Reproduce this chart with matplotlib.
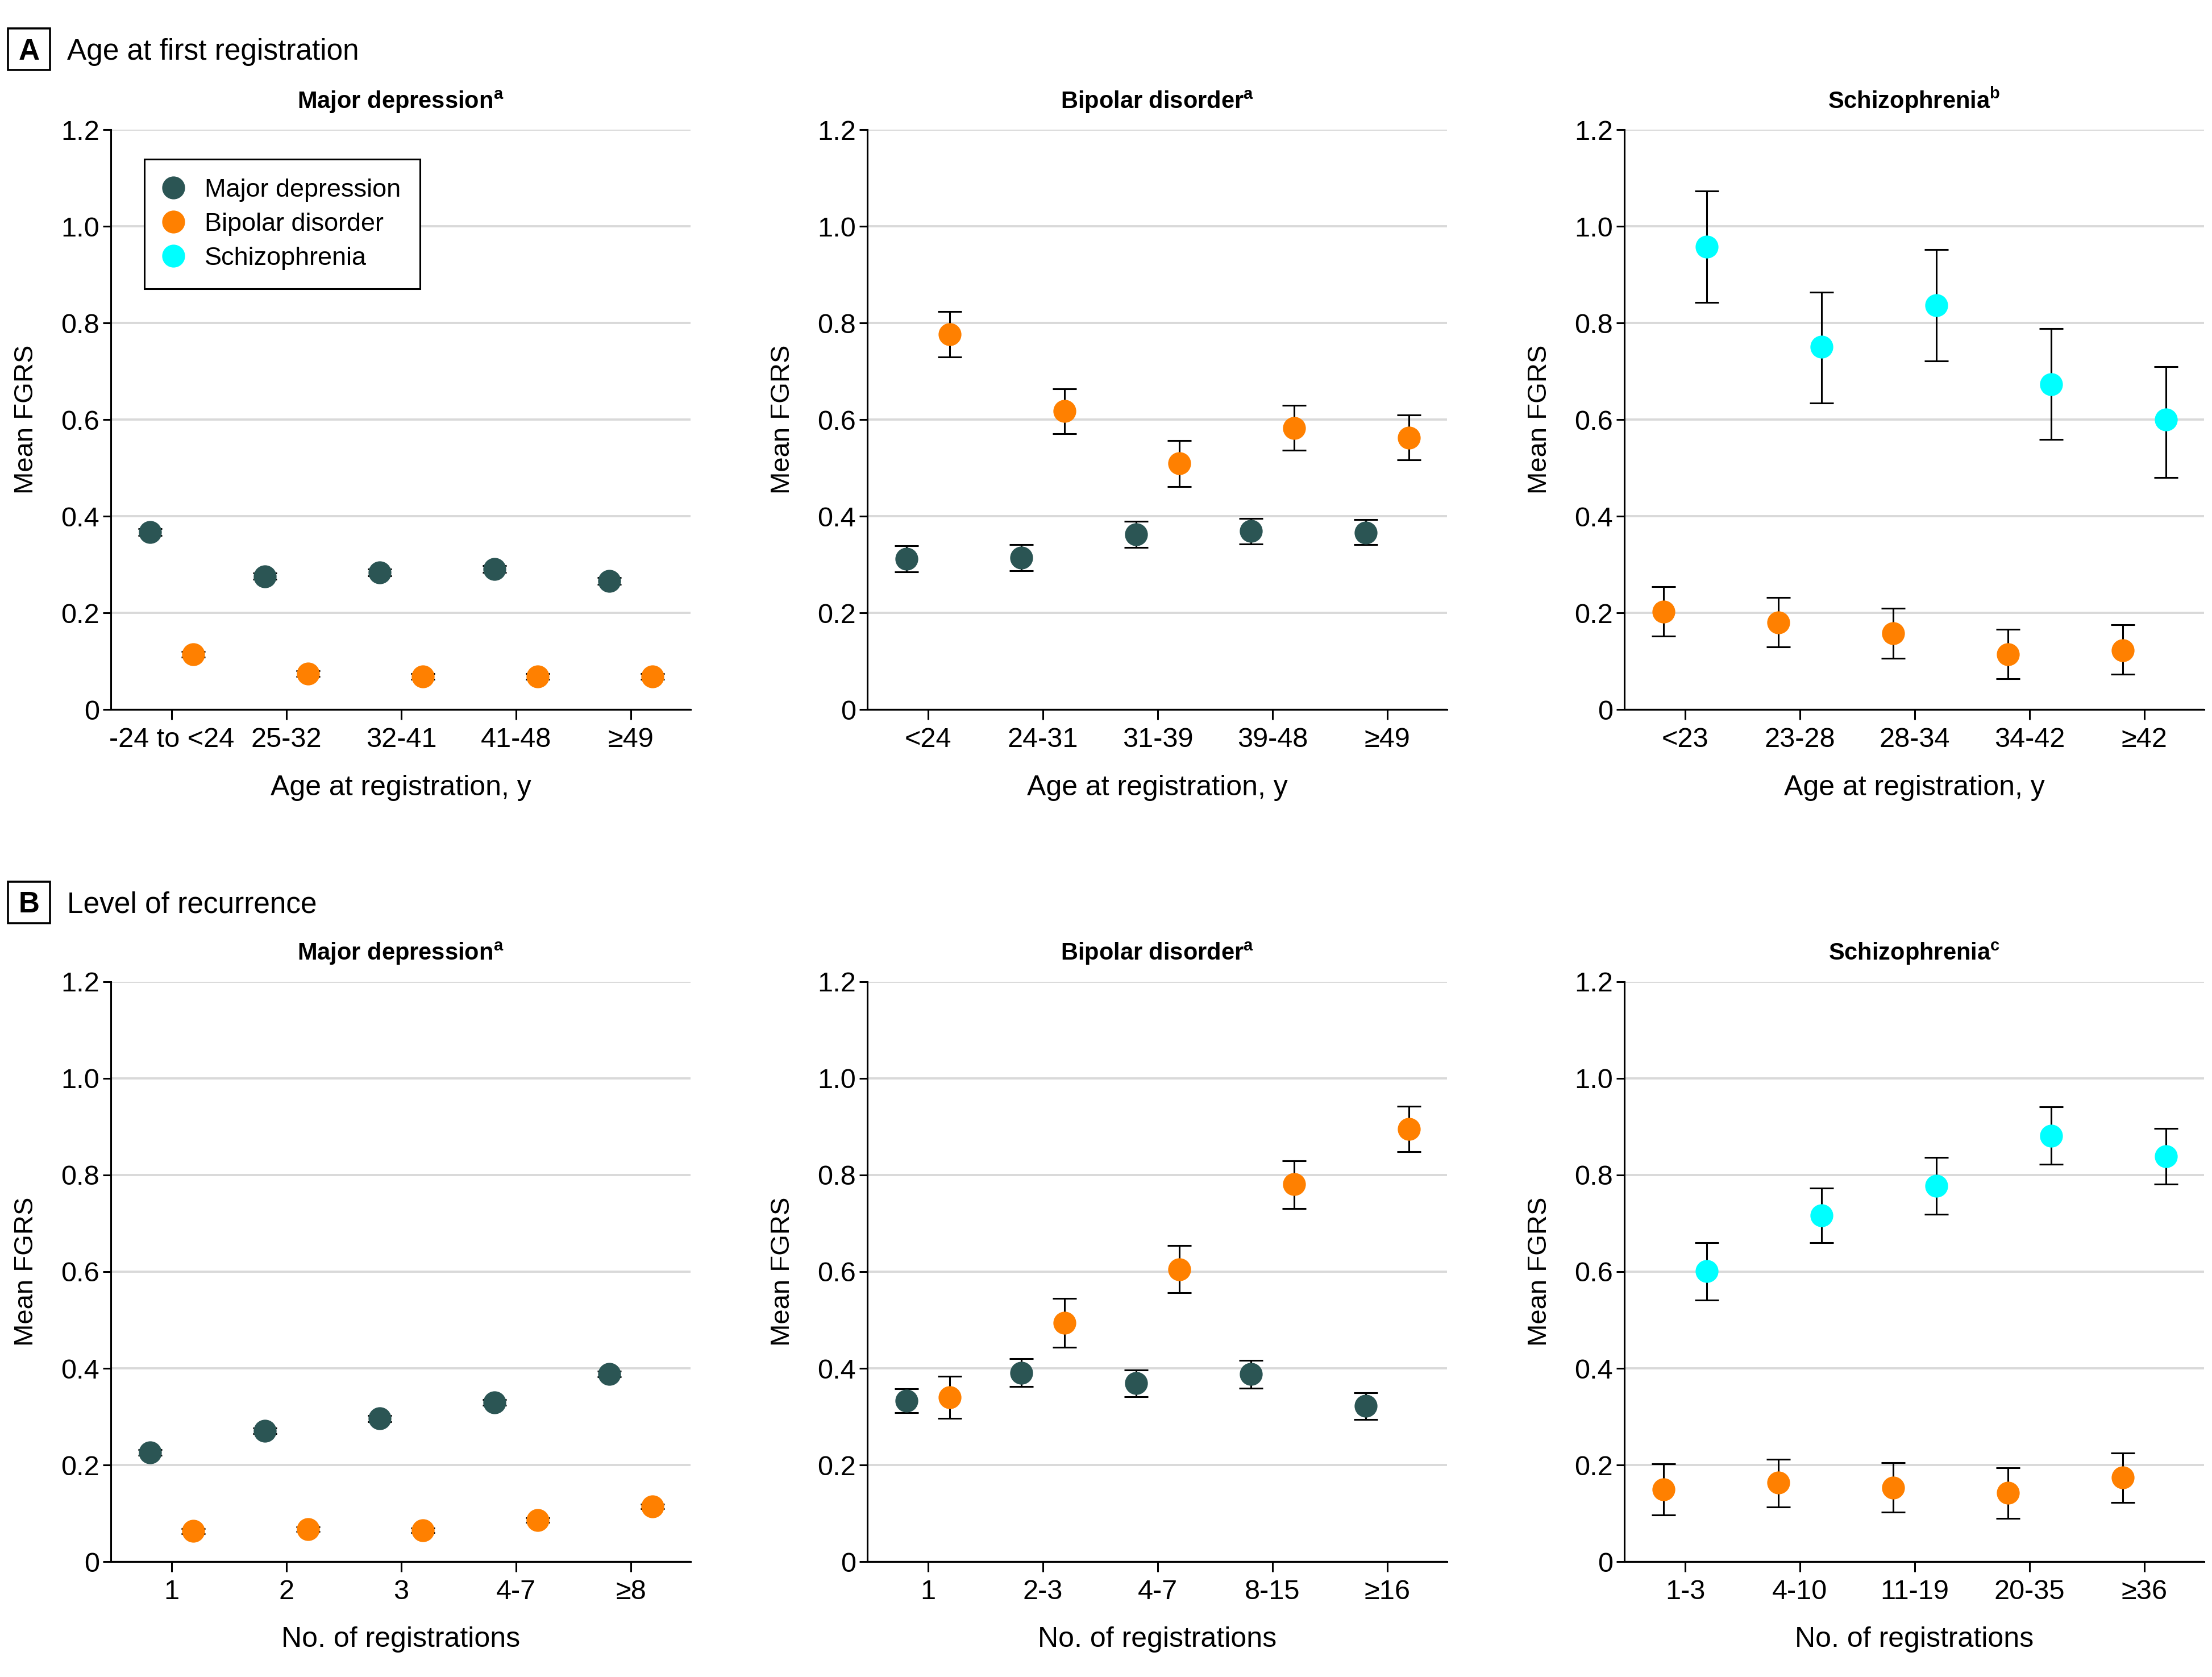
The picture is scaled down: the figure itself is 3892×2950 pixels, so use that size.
import matplotlib
matplotlib.use('Agg')
import matplotlib.pyplot as plt
from matplotlib.lines import Line2D
from matplotlib.patches import Rectangle

plt.rcParams['font.family'] = ['Liberation Sans', 'DejaVu Sans']
plt.rcParams['mathtext.fontset'] = 'custom'
plt.rcParams['mathtext.rm'] = 'Liberation Sans'
plt.rcParams['mathtext.bf'] = 'Liberation Sans:bold'

MD_COLOR = '#2b5554'
BP_COLOR = '#ff8000'
SCZ_COLOR = '#00ffff'

# ---- data ----
# A: age at first registration
a_md_cats = ['-24 to <24', '25-32', '32-41', '41-48', '≥49']
a_md_md = [0.367, 0.276, 0.284, 0.291, 0.266]
a_md_md_lo = [0.360, 0.269, 0.277, 0.284, 0.259]
a_md_md_hi = [0.374, 0.283, 0.291, 0.298, 0.273]
a_md_bp = [0.114, 0.074, 0.068, 0.068, 0.068]
a_md_bp_lo = [0.108, 0.068, 0.062, 0.062, 0.062]
a_md_bp_hi = [0.120, 0.080, 0.074, 0.074, 0.074]

a_bp_cats = ['<24', '24-31', '31-39', '39-48', '≥49']
a_bp_md = [0.312, 0.314, 0.362, 0.369, 0.366]
a_bp_md_lo = [0.285, 0.287, 0.335, 0.342, 0.341]
a_bp_md_hi = [0.339, 0.341, 0.389, 0.396, 0.393]
a_bp_bp = [0.777, 0.618, 0.509, 0.582, 0.562]
a_bp_bp_lo = [0.730, 0.571, 0.461, 0.536, 0.516]
a_bp_bp_hi = [0.824, 0.664, 0.556, 0.629, 0.610]

a_scz_cats = ['<23', '23-28', '28-34', '34-42', '≥42']
a_scz_bp = [0.203, 0.180, 0.158, 0.114, 0.122]
a_scz_bp_lo = [0.152, 0.129, 0.106, 0.064, 0.073]
a_scz_bp_hi = [0.254, 0.232, 0.209, 0.166, 0.175]
a_scz_scz = [0.958, 0.751, 0.836, 0.673, 0.600]
a_scz_scz_lo = [0.843, 0.634, 0.721, 0.559, 0.480]
a_scz_scz_hi = [1.073, 0.864, 0.952, 0.788, 0.709]

# B: level of recurrence
b_md_cats = ['1', '2', '3', '4-7', '≥8']
b_md_md = [0.226, 0.271, 0.296, 0.329, 0.388]
b_md_md_lo = [0.220, 0.265, 0.290, 0.323, 0.382]
b_md_md_hi = [0.232, 0.277, 0.302, 0.335, 0.394]
b_md_bp = [0.063, 0.067, 0.065, 0.086, 0.114]
b_md_bp_lo = [0.058, 0.062, 0.060, 0.081, 0.109]
b_md_bp_hi = [0.068, 0.072, 0.070, 0.091, 0.119]

b_bp_cats = ['1', '2-3', '4-7', '8-15', '≥16']
b_bp_md = [0.333, 0.391, 0.370, 0.388, 0.322]
b_bp_md_lo = [0.308, 0.362, 0.341, 0.359, 0.294]
b_bp_md_hi = [0.358, 0.420, 0.397, 0.417, 0.350]
b_bp_bp = [0.340, 0.494, 0.605, 0.781, 0.895]
b_bp_bp_lo = [0.297, 0.443, 0.556, 0.730, 0.848]
b_bp_bp_hi = [0.384, 0.545, 0.654, 0.829, 0.942]

b_scz_cats = ['1-3', '4-10', '11-19', '20-35', '≥36']
b_scz_bp = [0.149, 0.163, 0.153, 0.142, 0.174]
b_scz_bp_lo = [0.097, 0.113, 0.102, 0.089, 0.122]
b_scz_bp_hi = [0.202, 0.212, 0.205, 0.194, 0.225]
b_scz_scz = [0.601, 0.716, 0.778, 0.881, 0.839]
b_scz_scz_lo = [0.541, 0.660, 0.719, 0.822, 0.781]
b_scz_scz_hi = [0.660, 0.773, 0.836, 0.941, 0.897]

y_ticks = [0, 0.2, 0.4, 0.6, 0.8, 1.0, 1.2]
y_ticklabels = ['0', '0.2', '0.4', '0.6', '0.8', '1.0', '1.2']

# ---- figure ----
fig = plt.figure(figsize=(19.46, 14.75), dpi=200)

col_left = [0.0501, 0.3921, 0.7343]
row_bottom = [0.5769, 0.0688]
ax_w, ax_h = 0.2621, 0.3458

panels = [
    (0, 0, 'Major depression$^{\\mathbf{a}}$', a_md_cats, 'Age at registration, y',
     [(a_md_md, a_md_md_lo, a_md_md_hi, MD_COLOR, -0.19),
      (a_md_bp, a_md_bp_lo, a_md_bp_hi, BP_COLOR, 0.19)]),
    (0, 1, 'Bipolar disorder$^{\\mathbf{a}}$', a_bp_cats, 'Age at registration, y',
     [(a_bp_md, a_bp_md_lo, a_bp_md_hi, MD_COLOR, -0.19),
      (a_bp_bp, a_bp_bp_lo, a_bp_bp_hi, BP_COLOR, 0.19)]),
    (0, 2, 'Schizophrenia$^{\\mathbf{b}}$', a_scz_cats, 'Age at registration, y',
     [(a_scz_bp, a_scz_bp_lo, a_scz_bp_hi, BP_COLOR, -0.19),
      (a_scz_scz, a_scz_scz_lo, a_scz_scz_hi, SCZ_COLOR, 0.19)]),
    (1, 0, 'Major depression$^{\\mathbf{a}}$', b_md_cats, 'No. of registrations',
     [(b_md_md, b_md_md_lo, b_md_md_hi, MD_COLOR, -0.19),
      (b_md_bp, b_md_bp_lo, b_md_bp_hi, BP_COLOR, 0.19)]),
    (1, 1, 'Bipolar disorder$^{\\mathbf{a}}$', b_bp_cats, 'No. of registrations',
     [(b_bp_md, b_bp_md_lo, b_bp_md_hi, MD_COLOR, -0.19),
      (b_bp_bp, b_bp_bp_lo, b_bp_bp_hi, BP_COLOR, 0.19)]),
    (1, 2, 'Schizophrenia$^{\\mathbf{c}}$', b_scz_cats, 'No. of registrations',
     [(b_scz_bp, b_scz_bp_lo, b_scz_bp_hi, BP_COLOR, -0.19),
      (b_scz_scz, b_scz_scz_lo, b_scz_scz_hi, SCZ_COLOR, 0.19)]),
]

axes = {}
for row, col, title, cats, xlabel, series in panels:
    ax = fig.add_axes([col_left[col], row_bottom[row], ax_w, ax_h])
    axes[(row, col)] = ax
    for mean, lo, hi, color, off in series:
        xs = [i + off for i in range(len(cats))]
        err = [[m - l for m, l in zip(mean, lo)], [h - m for m, h in zip(mean, hi)]]
        ax.errorbar(xs, mean, yerr=err, fmt='o', ms=13.5, mfc=color, mec=color,
                    ecolor='black', elinewidth=1.1, capsize=7.4, capthick=1.1, zorder=3)
    ax.set_xlim(-0.53, 4.52)
    ax.set_ylim(0, 1.2)
    ax.set_xticks(range(len(cats)))
    ax.set_xticklabels(cats)
    ax.set_yticks(y_ticks)
    ax.set_yticklabels(y_ticklabels)
    ax.tick_params(axis='x', length=6.5, width=1.1, pad=4.5, labelsize=17.5)
    ax.tick_params(axis='y', length=5, width=1.1, pad=2.2, labelsize=17.5)
    for s in ['top', 'right']:
        ax.spines[s].set_visible(False)
    for s in ['left', 'bottom']:
        ax.spines[s].set_linewidth(1.1)
        ax.spines[s].set_color('black')
    ax.yaxis.grid(True, color='#d9d9d9', lw=1.4)
    ax.set_axisbelow(True)
    ax.set_title(title, fontsize=15, fontweight='bold', pad=13.5)
    ax.set_xlabel(xlabel, fontsize=18, labelpad=14)
    ax.set_ylabel('Mean FGRS', fontsize=17, labelpad=14)

# legend in first panel
handles = [
    Line2D([], [], ls='none', marker='o', ms=13.5, mfc=MD_COLOR, mec=MD_COLOR, label='Major depression'),
    Line2D([], [], ls='none', marker='o', ms=13.5, mfc=BP_COLOR, mec=BP_COLOR, label='Bipolar disorder'),
    Line2D([], [], ls='none', marker='o', ms=13.5, mfc=SCZ_COLOR, mec=SCZ_COLOR, label='Schizophrenia'),
]
leg = axes[(0, 0)].legend(handles=handles, loc='upper left', bbox_to_anchor=(0.058, 0.949),
                          borderaxespad=0, fontsize=16.2, frameon=True, fancybox=False,
                          framealpha=1, edgecolor='black', borderpad=0.75, labelspacing=0.42,
                          handlelength=0.75, handletextpad=0.85)
leg.get_frame().set_linewidth(1.1)

# panel headers
for letter, text, box_y0, base_y in [('A', 'Age at first registration', 0.9583, 0.9644),
                                     ('B', 'Level of recurrence', 0.4495, 0.4559)]:
    fig.patches.append(Rectangle((0.0036, box_y0), 0.019, 0.0247, transform=fig.transFigure,
                                 fill=False, ec='black', lw=1.3))
    fig.text(0.0036 + 0.0095, base_y, letter, fontsize=18.5, fontweight='bold',
             ha='center', va='baseline')
    fig.text(0.0303, base_y, text, fontsize=18.5, ha='left', va='baseline')

fig.savefig('out.png', dpi=200)
